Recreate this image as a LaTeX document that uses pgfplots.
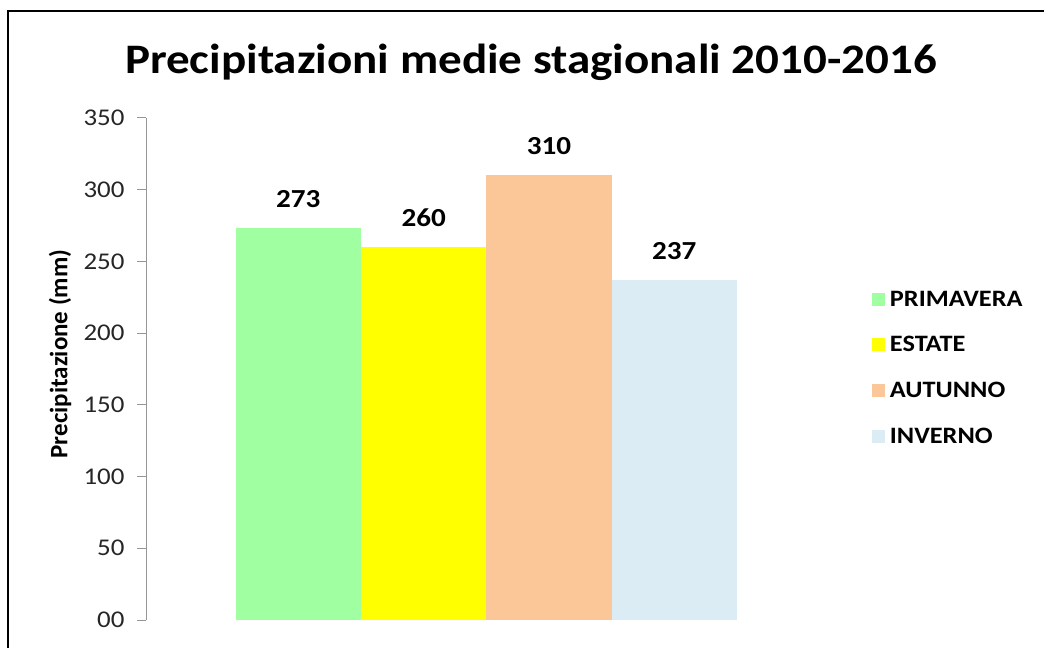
\documentclass[border=0pt]{standalone}
\usepackage{fontspec}
\setmainfont{Carlito}[FakeStretch=1.12]
\newfontfamily\plainfont{Carlito}
\usepackage{pgfplots}
\pgfplotsset{compat=1.18}
\definecolor{cgreen}{RGB}{160,255,160}
\definecolor{cyellow}{RGB}{255,255,0}
\definecolor{corange}{RGB}{251,198,152}
\definecolor{cblue}{RGB}{220,236,244}
\definecolor{axgray}{RGB}{150,150,150}
\begin{document}
\begin{tikzpicture}
\path[use as bounding box] (0,0) rectangle (1044pt,648pt);
\draw[line width=2.5pt] (8pt,0) -- (8pt,637pt) -- (1044pt,637pt);
\node[font=\fontsize{42}{50}\selectfont\bfseries, anchor=base] at (531pt,574pt) {Precipitazioni medie stagionali 2010-2016};
\node[font=\plainfont\fontsize{25}{28}\selectfont\bfseries, rotate=90] at (60pt,294pt) {Precipitazione (mm)};
\begin{axis}[
  at={(146pt,28pt)}, anchor=south west,
  scale only axis, width=591pt, height=502pt,
  xmin=-1.215, xmax=3.5, ymin=0, ymax=350,
  axis x line=none, axis y line=left,
  axis line style={-, draw=axgray, line width=1pt},
  ytick={0,50,...,350}, yticklabels={00,50,100,150,200,250,300,350},
  tick align=outside, major tick length=9pt,
  tick style={axgray, line width=1pt},
  yticklabel style={font=\fontsize{24}{28}\selectfont, text=black!85, xshift=-9pt},
  /pgf/number format/assume math mode=true,
  ybar, bar width=1,
  nodes near coords,
  every node near coord/.append style={font=\fontsize{26}{30}\selectfont\bfseries, anchor=base, yshift=21pt, inner sep=0pt},
  legend style={at={(axis description cs:1.228,0.502)}, anchor=west, draw=none, fill=none,
    font=\fontsize{23.5}{26}\selectfont\bfseries, row sep=25pt, column sep=3pt, inner sep=0pt, cells={anchor=west}},
  legend image code/.code={\fill[#1] (0pt,-6.5pt) rectangle (13pt,6.5pt);},
]
\addplot[fill=cgreen, draw=none, bar shift=0pt] coordinates {(0,273)};
\addplot[fill=cyellow, draw=none, bar shift=0pt] coordinates {(1,260)};
\addplot[fill=corange, draw=none, bar shift=0pt] coordinates {(2,310)};
\addplot[fill=cblue, draw=none, bar shift=0pt] coordinates {(3,237)};
\legend{PRIMAVERA,ESTATE,AUTUNNO,INVERNO}
\end{axis}
\end{tikzpicture}
\end{document}
